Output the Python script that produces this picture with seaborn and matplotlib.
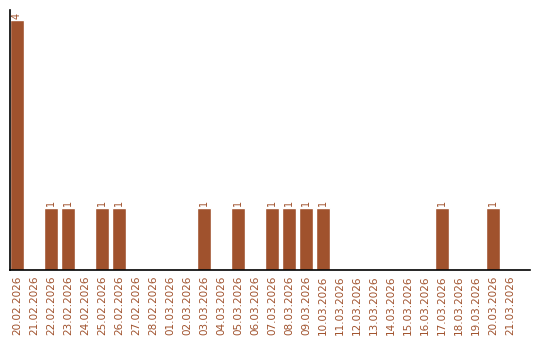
import matplotlib
matplotlib.use("Agg")
import matplotlib.pyplot as plt
import seaborn as sns
import pandas as pd

dates = ["20.02.2026", "21.02.2026", "22.02.2026", "23.02.2026", "24.02.2026",
         "25.02.2026", "26.02.2026", "27.02.2026", "28.02.2026", "01.03.2026",
         "02.03.2026", "03.03.2026", "04.03.2026", "05.03.2026", "06.03.2026",
         "07.03.2026", "08.03.2026", "09.03.2026", "10.03.2026", "11.03.2026",
         "12.03.2026", "13.03.2026", "14.03.2026", "15.03.2026", "16.03.2026",
         "17.03.2026", "18.03.2026", "19.03.2026", "20.03.2026", "21.03.2026"]
counts = [4, 0, 1, 1, 0, 1, 1, 0, 0, 0,
          0, 1, 0, 1, 0, 1, 1, 1, 1, 0,
          0, 0, 0, 0, 0, 1, 0, 0, 1, 0]

df = pd.DataFrame({"date": dates, "count": counts})

sns.set_style("white")
plt.rcParams['font.family'] = ['DejaVu Sans']

color = "#A0522D"
fig = plt.figure(figsize=(5.4, 3.4), dpi=100)
ax = fig.add_axes([10/540, 70/340, 520/540, 260/340])
sns.barplot(data=df, x="date", y="count", order=dates, color=color,
            width=14/17, saturation=1, ax=ax)

labels = [str(v) if v else "" for v in counts]
ax.bar_label(ax.containers[0], labels=labels, rotation=90, color=color,
             fontsize=7, padding=1)

ax.set_xlim(-7/17, 29 + 20/17)
ax.set_ylim(0, 260/62.5)
ax.set_xlabel("")
ax.set_ylabel("")
ax.set_yticks([])
ax.tick_params(axis="x", length=0, pad=4, labelsize=7.5, labelcolor=color,
               labelrotation=90)
for s in ["top", "right"]:
    ax.spines[s].set_visible(False)
for s in ["left", "bottom"]:
    ax.spines[s].set_color("black")
    ax.spines[s].set_linewidth(1.2)

fig.savefig("out.png", dpi=100)
